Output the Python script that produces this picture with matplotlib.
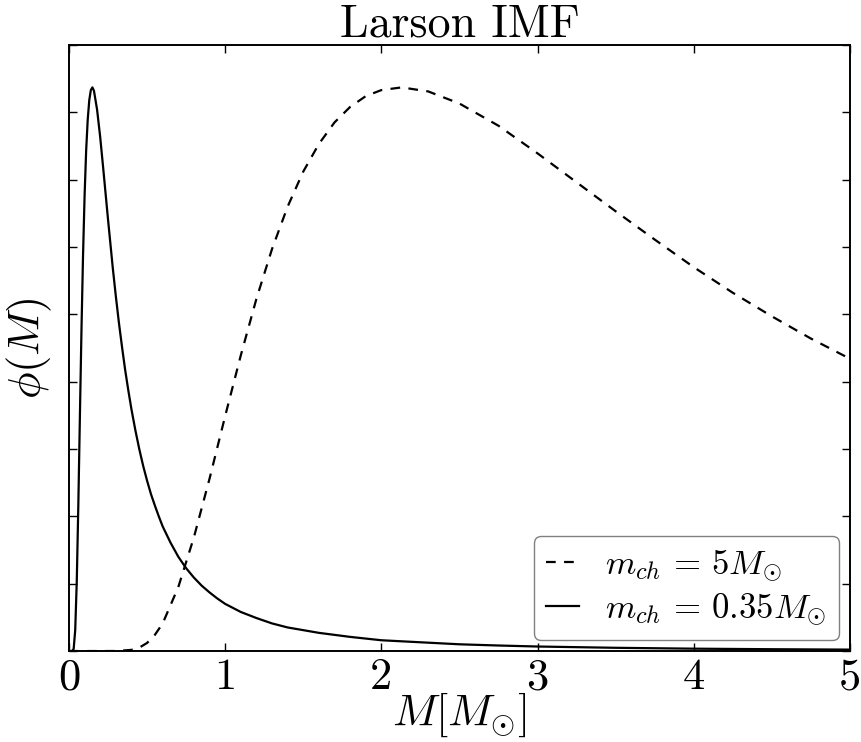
import matplotlib
matplotlib.use("Agg")
import matplotlib.pyplot as plt

plt.rcParams['font.family'] = 'cmr10'
plt.rcParams['mathtext.fontset'] = 'cm'
plt.rcParams['axes.formatter.use_mathtext'] = True
plt.rcParams['lines.scale_dashes'] = False

# --- data (y in tick units) ---
mass_low = [0.0, 0.02, 0.03, 0.04, 0.05, 0.06, 0.07, 0.08, 0.09, 0.10, 0.11, 0.12,
            0.13, 0.14, 0.15, 0.16, 0.18, 0.20, 0.22, 0.25, 0.28, 0.30, 0.32, 0.34,
            0.36, 0.38, 0.40, 0.425, 0.45, 0.475, 0.50, 0.525, 0.55, 0.575, 0.60,
            0.65, 0.70, 0.75, 0.80, 0.85, 0.90, 0.95, 1.0, 1.1, 1.2, 1.3, 1.4, 1.5,
            1.6, 1.8, 2.0, 2.25, 2.5, 2.75, 3.0, 3.5, 4.0, 4.5, 5.0]
phi_low = [0.0, 0.0, 0.03, 0.31, 1.04, 2.18, 3.49, 4.76, 5.87, 6.76, 7.43, 7.89,
           8.18, 8.33, 8.37, 8.32, 8.04, 7.63, 7.15, 6.41, 5.70, 5.27, 4.87, 4.51,
           4.17, 3.87, 3.59, 3.28, 3.00, 2.75, 2.53, 2.33, 2.16, 2.00, 1.85,
           1.61, 1.40, 1.23, 1.09, 0.97, 0.87, 0.78, 0.70, 0.58, 0.49, 0.41, 0.35, 0.31,
           0.27, 0.21, 0.16, 0.13, 0.10, 0.082, 0.067, 0.048, 0.035, 0.027, 0.021]

mass_high = [0.0, 0.2, 0.3, 0.4, 0.45, 0.5, 0.55, 0.6, 0.7, 0.8, 0.9, 1.0, 1.1, 1.2,
             1.3, 1.4, 1.5, 1.6, 1.7, 1.8, 1.9, 2.0, 2.13, 2.3, 2.5, 2.75, 3.0, 3.25,
             3.5, 3.75, 4.0, 4.25, 4.5, 4.75, 5.0]
phi_high = [0.0, 0.0, 0.0005, 0.017, 0.05, 0.12, 0.24, 0.41, 0.95, 1.69, 2.56, 3.49,
            4.39, 5.23, 5.97, 6.60, 7.12, 7.53, 7.85, 8.08, 8.24, 8.33, 8.37, 8.31,
            8.13, 7.80, 7.39, 6.96, 6.53, 6.11, 5.70, 5.32, 4.97, 4.64, 4.34]

label_high = r'$m_{ch} \,=\, 5M_{\odot}$'
label_low = r'$m_{ch} \,=\, 0.35M_{\odot}$'
x_ticks = [0, 1, 2, 3, 4, 5]
y_ticks = list(range(10))

fig = plt.figure(figsize=(8.61, 7.42), dpi=100)
ax = fig.add_axes([0.0801, 0.1226, 0.9071, 0.8168])

ax.plot(mass_high, phi_high, color='black', lw=1.6, linestyle=(0, (7, 6)), label=label_high)
ax.plot(mass_low, phi_low, color='black', lw=1.6, linestyle='-', label=label_low)

ax.set_xlim(0, 5)
ax.set_ylim(0, 9)
ax.set_xticks(x_ticks)
ax.set_xticklabels([str(t) for t in x_ticks])
ax.set_yticks(y_ticks)
ax.tick_params(direction='in', top=True, right=True, length=6, width=1,
               labelleft=False, labelsize=32, pad=5)
for s in ax.spines.values():
    s.set_linewidth(1.4)

ax.set_title('Larson IMF', fontsize=33, pad=6)
ax.set_xlabel(r'$M[M_{\odot}]$', fontsize=32, labelpad=-5)
ax.set_ylabel(r'$\phi(M)$', fontsize=32, labelpad=11)

leg = ax.legend(loc='lower right', fontsize=25, handlelength=0.95, handletextpad=0.75,
                borderaxespad=0.32, labelspacing=0.2, borderpad=0.35,
                fancybox=True, framealpha=1)
leg.get_frame().set_edgecolor('0.5')
leg.get_frame().set_linewidth(1.0)

fig.savefig('out.png', dpi=100)
